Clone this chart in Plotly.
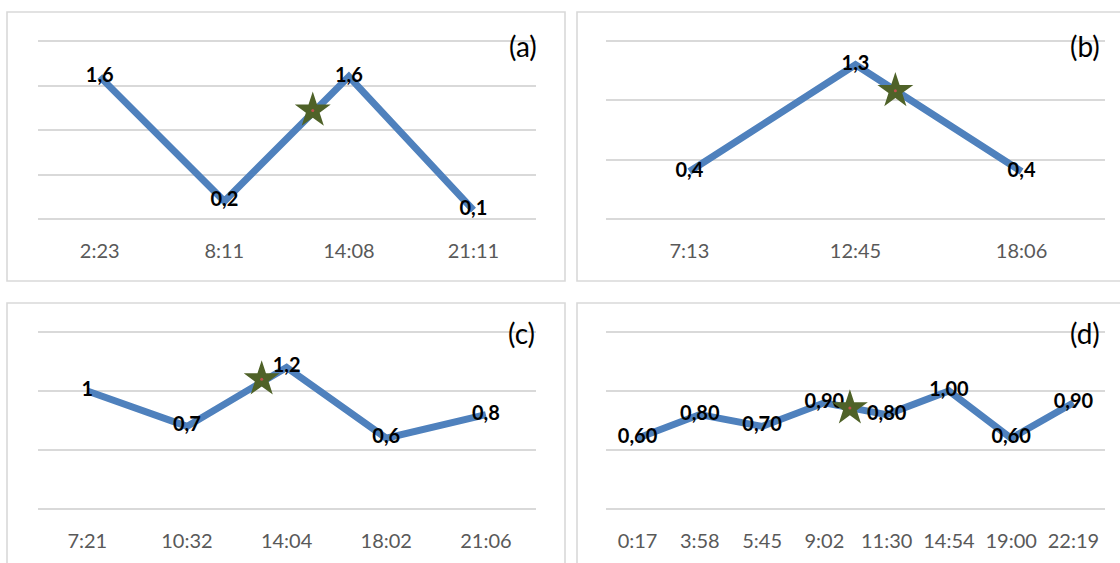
import plotly.graph_objects as go

# ---- data -------------------------------------------------------------
times_a = ["2:23", "8:11", "14:08", "21:11"]
vals_a = [1.6, 0.2, 1.6, 0.1]

times_b = ["7:13", "12:45", "18:06"]
vals_b = [0.4, 1.3, 0.4]

times_c = ["7:21", "10:32", "14:04", "18:02", "21:06"]
vals_c = [1.0, 0.7, 1.2, 0.6, 0.8]

times_d = ["0:17", "3:58", "5:45", "9:02", "11:30", "14:54", "19:00", "22:19"]
vals_d = [0.60, 0.80, 0.70, 0.90, 0.80, 1.00, 0.60, 0.90]

# event marker (star): position along the time axis (category index) and value
star_a = (1.71, 1.22)
star_b = (1.24, 1.08)
star_c = (1.75, 1.10)
star_d = (3.41, 0.855)

panel_tags = ["(a)", "(b)", "(c)", "(d)"]
y_max = [2.0, 1.5, 1.5, 1.5]

# ---- styling ----------------------------------------------------------
W, H = 1120, 563
LINE_BLUE = "#4f81bd"
STAR_GREEN = "#4f6228"
GRID = "#d9d9d9"
TICK_GREY = "#595959"
FONT = "Lato, 'Open Sans', sans-serif"
EDGE_PAD = 3  # px of breathing room so the outermost gridlines are kept


def px_x(p):
    return p / W


def px_y(p):
    return (H - p) / H


def fmt1(v):
    return f"{v:g}".replace(".", ",")


def fmt2(v):
    return f"{v:.2f}".replace(".", ",")


panels = [
    (times_a, vals_a, star_a, [fmt1(v) for v in vals_a]),
    (times_b, vals_b, star_b, [fmt1(v) for v in vals_b]),
    (times_c, vals_c, star_c, [fmt1(v) for v in vals_c]),
    (times_d, vals_d, star_d, [fmt2(v) for v in vals_d]),
]

# plot areas (pixel extents of the grid region)
x_dom = [(37.5, 535.7), (606.4, 1104.6), (37.5, 535.7), (606.4, 1104.6)]
y_dom = [(41, 219), (41, 219), (332, 509), (332, 509)]
# panel frames
frames = [(7, 12, 565, 281), (577, 12, 1130, 281),
          (7, 303, 565, 580), (577, 303, 1130, 580)]
tag_pos = [(523, 46), (1085, 46), (521, 333), (1085, 333)]

fig = go.Figure()
layout = dict(
    width=W, height=H,
    margin=dict(l=0, r=0, t=0, b=0),
    paper_bgcolor="white", plot_bgcolor="white",
    showlegend=False,
    font=dict(family=FONT),
    shapes=[], annotations=[],
)

for i, (times, vals, star, labels) in enumerate(panels):
    n = i + 1
    xa = "x" if n == 1 else f"x{n}"
    ya = "y" if n == 1 else f"y{n}"
    idx = list(range(len(times)))

    fig.add_trace(go.Scatter(
        x=idx, y=vals, xaxis=xa, yaxis=ya,
        mode="lines+text",
        line=dict(color=LINE_BLUE, width=7),
        text=labels, textposition="middle center",
        textfont=dict(family=FONT, size=20, color="black", weight="bold"),
        hoverinfo="skip", cliponaxis=False,
    ))
    fig.add_trace(go.Scatter(
        x=[star[0]], y=[star[1]], xaxis=xa, yaxis=ya,
        mode="markers",
        marker=dict(symbol="star", size=27, color=STAR_GREEN,
                    line=dict(width=0)),
        hoverinfo="skip",
    ))
    fig.add_trace(go.Scatter(
        x=[star[0]], y=[star[1]], xaxis=xa, yaxis=ya,
        mode="markers",
        marker=dict(symbol="circle", size=3, color="#c0504d",
                    line=dict(width=0)),
        hoverinfo="skip",
    ))

    xkey = "xaxis" if n == 1 else f"xaxis{n}"
    ykey = "yaxis" if n == 1 else f"yaxis{n}"
    x0, x1 = x_dom[i]
    yt, yb = y_dom[i]
    pad = EDGE_PAD * y_max[i] / (yb - yt)
    layout[xkey] = dict(
        domain=[px_x(x0), px_x(x1)], anchor=ya,
        range=[-0.5, len(times) - 0.5],
        tickmode="array", tickvals=idx, ticktext=times,
        showgrid=False, zeroline=False, showline=False,
        ticks="", ticklabelstandoff=18 - EDGE_PAD,
        tickfont=dict(family=FONT, size=20, color=TICK_GREY),
        fixedrange=True,
    )
    layout[ykey] = dict(
        domain=[px_y(yb + EDGE_PAD), px_y(yt - EDGE_PAD)], anchor=xa,
        range=[-pad, y_max[i] + pad],
        dtick=0.5, tick0=0,
        showgrid=True, gridcolor=GRID, gridwidth=1.6,
        zeroline=False, showline=False, showticklabels=False,
        fixedrange=True,
    )

    fx0, fy0, fx1, fy1 = frames[i]
    layout["shapes"].append(dict(
        type="rect", xref="paper", yref="paper",
        x0=px_x(fx0), x1=px_x(fx1), y0=px_y(fy1), y1=px_y(fy0),
        line=dict(color=GRID, width=1.6), fillcolor="rgba(0,0,0,0)",
        layer="below",
    ))
    tx, ty = tag_pos[i]
    layout["annotations"].append(dict(
        text=panel_tags[i], xref="paper", yref="paper",
        x=px_x(tx), y=px_y(ty), xanchor="center", yanchor="middle",
        showarrow=False, font=dict(family=FONT, size=28, color="black"),
    ))

fig.update_layout(**layout)
fig.write_html("out.html")
